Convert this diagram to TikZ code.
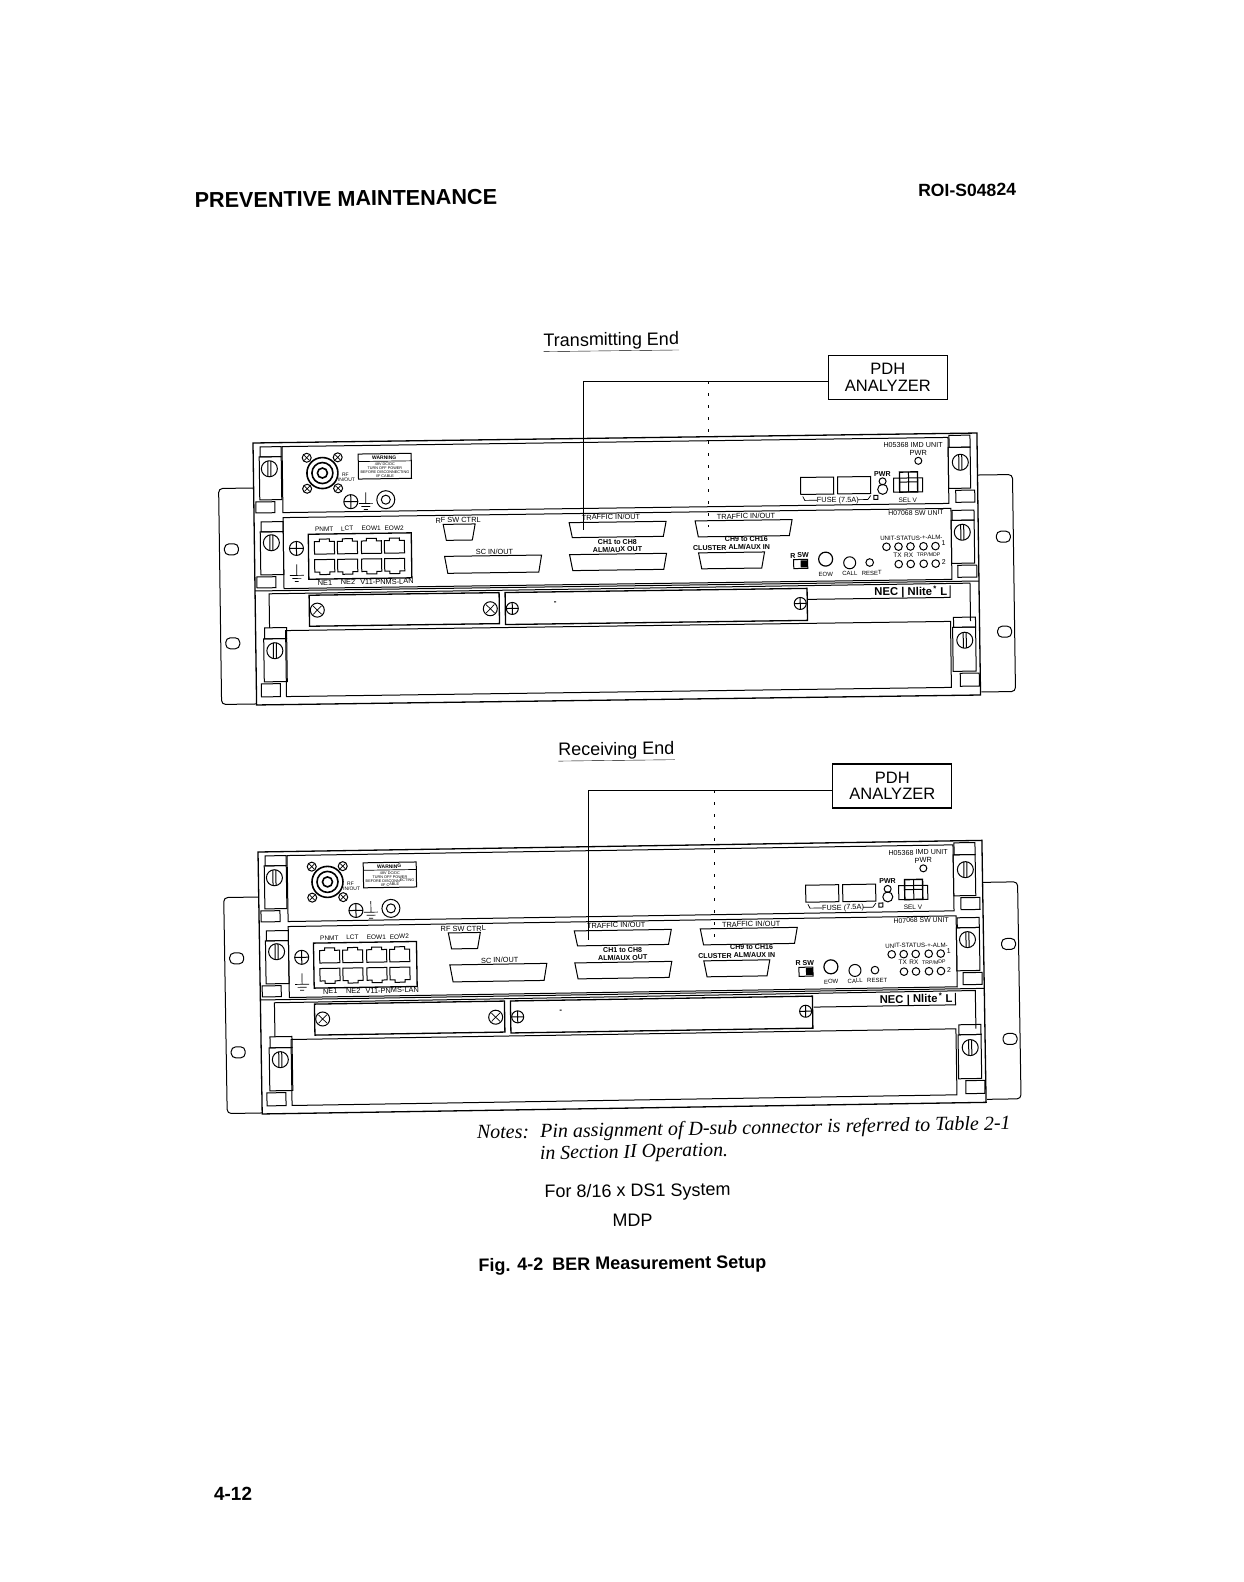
\documentclass[tikz,border=0pt]{standalone}
\usepackage{fontspec}
\setmainfont{Liberation Sans}
\newfontfamily\serifnotes{Liberation Serif}
\newcounter{lbc}
\usetikzlibrary{calc}
\tikzset{
  rk/.style={draw=black,line width=1pt},
  thin line/.style={draw=black,line width=.7pt},
  lbl/.style={inner sep=0pt,outer sep=0pt,font=\fontsize{7.4}{7.4}\selectfont,text=black},
  lbs/.style={lbl,font=\fontsize{6.5}{6.5}\selectfont},
  lblb/.style={lbl,font=\fontsize{7.1}{7.1}\bfseries\selectfont},
  page/.style={inner sep=0pt,outer sep=0pt,text=black,rotate=0.7},
  pdh/.style={draw=black,line width=1.2pt,minimum width=119pt,minimum height=44pt,inner sep=0pt,align=center,
     font=\fontsize{16.5}{16.5}\selectfont,text=black},
  cable/.style={draw=black,line width=.9pt},
  dashcable/.style={draw=black,line width=1pt,dash pattern=on 3pt off 9pt}
}
\newcommand\lb[3][lbl]{\stepcounter{lbc}\node[#1] (t\arabic{lbc}) at (#2) {#3};}
\newcommand\screwX[3]{\draw[rk] (#1,#2) circle (#3);
  \draw[thin line] ($(#1,#2)+(-#3*.6,-#3*.6)$) -- ($(#1,#2)+(#3*.6,#3*.6)$) ($(#1,#2)+(-#3*.6,#3*.6)$) -- ($(#1,#2)+(#3*.6,-#3*.6)$);}
\newcommand\screwP[3]{\draw[rk] (#1,#2) circle (#3);
  \draw[rk] ($(#1,#2)+(-#3,0)$) -- ($(#1,#2)+(#3,0)$) ($(#1,#2)+(0,-#3)$) -- ($(#1,#2)+(0,#3)$);}
\newcommand\latch[9]{% u1 u2 v0 v1 v2 (cap & latch), screw u v, small u v
  \draw[rk] (#1+1,#3) rectangle (#2,#4);
  \draw[rk] (#1,#4) rectangle (#2,#5);
  \draw[rk] (#6,#7) circle (8);
  \draw[rk] (#6-1.5,#7-8) -- (#6-1.5,#7+8) (#6+1.5,#7-8) -- (#6+1.5,#7+8);
  \draw[rk] (#8,#5+2) rectangle (#8+19,#9);}
\newcommand\jackT[2]{\draw[rk] (#1-10,#2-5) -- (#1-5,#2-5) -- (#1-5,#2-7.5) -- (#1+5,#2-7.5) -- (#1+5,#2-5) -- (#1+10,#2-5) -- (#1+10,#2+7.5) -- (#1-10,#2+7.5) -- cycle;}
\newcommand\jackB[2]{\draw[rk] (#1-10,#2-7.5) -- (#1+10,#2-7.5) -- (#1+10,#2+5) -- (#1+5,#2+5) -- (#1+5,#2+7.5) -- (#1-5,#2+7.5) -- (#1-5,#2+5) -- (#1-10,#2+5) -- cycle;}
\newcommand\dsub[4]{\draw[rk] (#1,#2) -- (#3,#2) -- (#3-3,#4) -- (#1+3,#4) -- cycle;}
\newcommand\gnd[2]{\draw[thin line] (#1,#2-9) -- (#1,#2+2) (#1-7,#2+2) -- (#1+7,#2+2) (#1-4.5,#2+5) -- (#1+4.5,#2+5) (#1-2,#2+8) -- (#1+2,#2+8);}
\newcommand\hole[2]{\draw[rk,rounded corners=4.5pt] (#1-7,#2-5.5) rectangle (#1+7,#2+5.5);}
\newcommand\rackbody{%
  % ears
  \draw[rk,rounded corners=4pt] (0,45) -- (-35,45) -- (-35,261) -- (0,261);
  \draw[rk,rounded corners=4pt] (724,42) -- (759,42) -- (759,259) -- (725,259);
  \hole{-23}{106}\hole{-23}{200}\hole{749}{104}\hole{749}{199}
  % frame
  \draw[rk,line width=1.3pt] (0,0) rectangle (724,262);
  \draw[rk] (29,4) -- (695,4) -- (695,70) -- (29,70) -- cycle;
  \draw[rk] (29,75) -- (697,75) -- (697,146) -- (29,146) -- cycle;
  \draw[rk] (0,148) -- (724,148);
  \draw[rk] (14,185) -- (14,151) -- (715,150) -- (715,188);
  \draw[rk] (30,188) rectangle (695,254);
  % latches
  \latch{6}{28}{4}{14}{57}{16}{26}{2}{70}
  \latch{6}{29}{79}{89}{132}{17}{100}{2}{145}
  \latch{8}{31}{185}{196}{239}{19}{208}{5}{254}
  \latch{695}{717}{2}{14}{55}{707}{29}{702}{69}
  \latch{697}{720}{77}{87}{130}{708}{99}{703}{144}
  \latch{697}{720}{184}{194}{238}{709}{207}{704}{253}
  % top unit: RF connector
  \draw[rk,line width=1.6pt] (69,31) circle (15.5);
  \draw[rk,line width=1.6pt] (69,31) circle (10.5);
  \draw[rk,line width=1.6pt] (69,31) circle (5);
  \screwX{53.5}{15.5}{4.5}\screwX{84.5}{15.5}{4.5}\screwX{53.5}{46.5}{4.5}\screwX{84.5}{46.5}{4.5}
  \lb[lbl,font=\fontsize{5}{5}\selectfont]{92,33}{RF}
  \lb[lbl,font=\fontsize{5}{5}\selectfont]{93,38}{IN/OUT}
  \draw[rk] (105,12.5) rectangle (158,37.5);
  \draw[thin line] (105,20) -- (158,20);
  \lb[lblb,font=\fontsize{5}{5}\selectfont]{131,16.5}{\textbf{WARNING}}
  \lb[lbl,font=\fontsize{3.8}{3.8}\selectfont,align=center]{131.5,29}{48V DC/DC\\TURN OFF POWER\\BEFORE DISCONNECTING\\I/F CABLE}
  \screwP{97}{60}{7}\gnd{112}{60}
  \draw[rk] (132,58.5) circle (9); \draw[rk] (132,58.5) circle (4.5);
  % top unit right
  \lb[lbl,font=\fontsize{7.2}{7.2}\selectfont]{660,11}{H05368 IMD UNIT}
  \lb{665,19}{PWR}
  \draw[rk] (665,27) circle (3.5);
  \draw[rk] (547,42) rectangle (580,59);
  \draw[rk] (584,42) rectangle (617,59);
  \draw[thin line] (549,61) -- (551,65) -- (563,65) (604,65) -- (614,65) -- (617,61);
  \lb{584,65.5}{FUSE (7.5A)}
  \lb[lblb]{629,39.5}{PWR}
  \draw[rk] (629,47) circle (3.5);
  \draw[rk] (629,55) circle (5);
  \draw[rk] (620,61) rectangle (624,65);
  \draw[rk] (640,44) rectangle (669,58);
  \draw[rk,line width=1.4pt] (646,38) rectangle (664,58);
  \draw[rk] (655,38) -- (655,58) (646,48) -- (664,48);
  \lb[lbs]{654,66}{SEL V}
  % SW unit left
  \screwP{42}{106}{7}\gnd{42}{131}
  \draw[rk,line width=1.3pt] (54,92) rectangle (157,137);
  \foreach \u in {70,93,117,140} {\jackT{\u}{104.5}\jackB{\u}{125}}
  \lb[lbs]{70,87}{PNMT}\lb[lbs]{93,87}{LCT}\lb[lbs]{117,87}{EOW1}\lb[lbs]{140,87}{EOW2}
  \lb{70,140.5}{NE1}\lb{93,140.5}{NE2}\lb{132,140.5}{V11-PNMS-LAN}
  \lb{204,80}{RF SW CTRL}
  \dsub{189}{84}{221}{100}
  \lb{240,112}{SC IN/OUT}
  \dsub{190}{116}{287}{133}
  \lb{357,79}{TRAFFIC IN/OUT}
  \dsub{315}{84}{412}{99}
  \lb[lblb]{363,104}{CH1 to CH8}
  \lb[lblb]{363,111.5}{ALM/AUX OUT}
  \dsub{315}{116}{412}{132}
  \lb{492,80}{TRAFFIC IN/OUT}
  \dsub{441}{84}{538}{100}
  \lb[lblb]{492,103}{CH9 to CH16}
  \lb[lblb]{477,111}{CLUSTER ALM/AUX IN}
  \dsub{444}{116}{510}{132}
  % SW unit right
  \lb[lbl,font=\fontsize{6.9}{6.9}\selectfont]{662,79}{H07068 SW UNIT}
  \lb[lblb]{545,120}{R SW}
  \draw[rk] (539,124) rectangle (553,133);
  \fill[black] (546,125) rectangle (553,132);
  \draw[rk,line width=1.2pt] (571,124) circle (7);
  \draw[rk] (595,128) circle (6);
  \draw[rk] (615,128) circle (3.8);
  \lb[lbl,font=\fontsize{6}{6}\selectfont]{571,139}{EOW}\lb[lbl,font=\fontsize{6}{6}\selectfont]{595,138.5}{CALL}\lb[lbl,font=\fontsize{6}{6}\selectfont]{617,138.5}{RESET}
  \foreach \u in {632,644,656,669,681} {\draw[rk] (\u,112.5) circle (3.8);}
  \foreach \u in {644,656,669,681} {\draw[rk] (\u,130) circle (3.8);}
  \lb[lbl,font=\fontsize{6.2}{6.2}\selectfont]{657,104}{UNIT-STATUS-+-ALM-}
  \lb[lbs]{643,121}{TX}
  \lb[lbs]{654,121}{RX}
  \lb[lbl,font=\fontsize{5.2}{5.2}\selectfont]{674,121}{TRP/MDP}
  \lb[lbl,font=\fontsize{7}{7}\selectfont]{689,110}{1}
  \lb[lbl,font=\fontsize{7}{7}\selectfont]{689,129}{2}
  % lower slots
  \draw[rk,line width=1.3pt] (54,153) rectangle (244,184);
  \screwX{62}{168}{7}\screwX{235}{169}{7}
  \draw[rk,line width=1.3pt] (250,153) rectangle (552,185);
  \screwP{257}{169}{6}\screwP{545}{168}{6}
  \fill[black] (299,162.5) rectangle (301,163.5);
  \draw[rk] (553,164) -- (695,164) -- (695,152);
  \lb[lbl,font=\fontsize{11.3}{11.3}\bfseries\selectfont,anchor=east]{692,158}{NEC \textbar\ Nlite\textsuperscript{\,*} L}
}
\begin{document}
\begin{tikzpicture}[x=1pt,y=-1pt]
\useasboundingbox (0,0) rectangle (1244,1582);
\node[page,font=\fontsize{21.6}{21.6}\bfseries\selectfont,anchor=west] (head) at (194.7,200.5) {PREVENTIVE MAINTENANCE};
\node[page,font=\fontsize{17.6}{17.6}\bfseries\selectfont,anchor=east] (roi) at (1016,189.7) {ROI-S04824};
\node[page,font=\fontsize{18}{18}\selectfont] (te) at (611.3,342) {\underline{Transmitting End}};
\node[page,font=\fontsize{18}{18}\selectfont] (re) at (616.4,751.6) {\underline{Receiving End}};
\node[pdh] (pa) at (887.8,377.3) {PDH\\[0pt]ANALYZER};
\node[pdh] (pb) at (892.3,785.9) {PDH\\[0pt]ANALYZER};
\coordinate (a1) at (708.3,381.3); \coordinate (a2) at (583,381.3); \coordinate (a3) at (583,530); \coordinate (a4) at (708.3,527);
\coordinate (b1) at (714,790); \coordinate (b2) at (588,790); \coordinate (b3) at (588,940); \coordinate (b4) at (714,937);
\begin{scope}[shift={(253,443)},rotate=0.79,transform shape]
\rackbody
\end{scope}
\begin{scope}[shift={(258,852)},rotate=0.92,transform shape]
\rackbody
\end{scope}
\draw[cable] (pa.west |- a1) -- (a2) -- (a3);
\draw[dashcable] (a1) -- (a4);
\draw[cable] (pb.west |- b1) -- (b2) -- (b3);
\draw[dashcable] (b1) -- (b4);
\node[page,rotate=0.3,font=\fontsize{20}{20}\selectfont\serifnotes\itshape,anchor=west] (n1) at (477,1134) {Notes:\hspace{.55em}Pin assignment of D-sub connector is referred to Table 2-1};
\node[page,rotate=0.3,font=\fontsize{19.8}{19.8}\selectfont\serifnotes\itshape,anchor=west] (n2) at (540,1155) {in Section II Operation.};
\node[page,font=\fontsize{18}{18}\selectfont] (n3) at (637.6,1192) {For 8/16 x DS1 System};
\node[page,font=\fontsize{18}{18}\selectfont] (n4) at (632.5,1220) {MDP};
\node[page,font=\fontsize{18}{18}\bfseries\selectfont] (n5) at (622.4,1265) {Fig. 4-2\hspace{.5em}BER Measurement Setup};
\node[page,font=\fontsize{19}{19}\bfseries\selectfont] (n6) at (233,1494) {4-12};
\end{tikzpicture}
\end{document}
